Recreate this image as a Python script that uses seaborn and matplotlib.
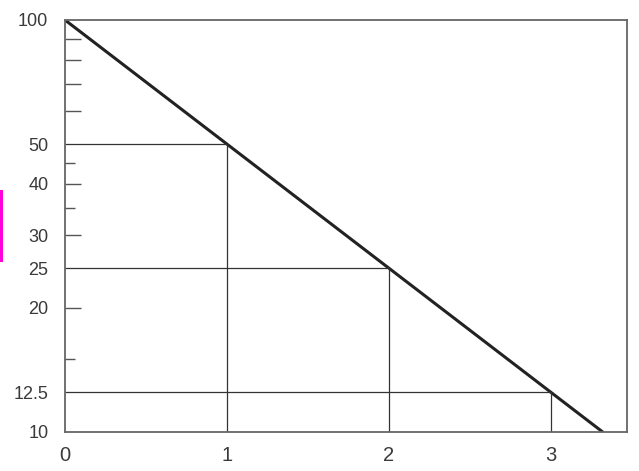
import numpy as np
import pandas as pd
import seaborn as sns
import matplotlib
matplotlib.use("Agg")
import matplotlib.pyplot as plt
from matplotlib.patches import Rectangle

# ---- data ----
line_x = [0.0, 3.32]
line_y = [100.0, 10.0]
half_x = [1, 2, 3]
half_y = [50, 25, 12.5]
ytick_vals = [10, 12.5, 20, 25, 30, 40, 50, 100]
ytick_labels = ["10", "12.5", "20", "25", "30", "40", "50", "100"]
long_ticks = [90, 80, 70, 60, 40, 30, 20]
short_ticks = [45, 35, 15]
xtick_vals = [0, 1, 2, 3]
xtick_labels = ["0", "1", "2", "3"]

sns.set_theme(style="white")
plt.rcParams['font.family'] = ['Liberation Sans', 'DejaVu Sans']

fig = plt.figure(figsize=(6.39, 4.71), dpi=100)
ax = fig.add_axes([65/639, 1-432/471, (627-65)/639, (432-20)/471])

df = pd.DataFrame({"x": line_x, "y": line_y})
sns.lineplot(data=df, x="x", y="y", ax=ax, color="#222222", linewidth=2.2)

ax.set_yscale("log")
ax.set_xlim(0, 3.47)
ax.set_ylim(10, 100)

# guide lines
ax.hlines(half_y, 0, half_x, color="#333333", linewidth=0.9)
ax.vlines(half_x, 10, half_y, color="#333333", linewidth=0.9)

ax.yaxis.remove_overlapping_locs = False
ax.set_yticks(ytick_vals)
ax.set_yticklabels(ytick_labels)
ax.set_yticks(long_ticks, minor=True)
ax.set_yticklabels([], minor=True)
ax.tick_params(axis="y", which="major", length=0, pad=12, labelsize=13, labelcolor="#3a3a3a")
ax.tick_params(axis="y", which="minor", direction="in", length=11.5, width=1.0, color="#555555", left=True)
ax.set_xticks(xtick_vals)
ax.set_xticklabels(xtick_labels)
ax.tick_params(axis="x", which="both", length=0, pad=10, labelsize=14.5, labelcolor="#3a3a3a")
ax.set_xlabel("")
ax.set_ylabel("")

ax2 = ax.twinx()
ax2.set_yscale("log")
ax2.set_ylim(10, 100)
ax2.set_yticks(short_ticks)
ax2.set_yticks([], minor=True)
ax2.tick_params(axis="y", which="major", direction="in", length=7, width=1.0, color="#555555",
                left=True, right=False, labelleft=False, labelright=False)
for sp in ax2.spines.values():
    sp.set_visible(False)

for sp in ax.spines.values():
    sp.set_color("#666666")
    sp.set_linewidth(1.3)

fig.patches.append(Rectangle((0, 1-262/471), 2.5/639, 72/471, transform=fig.transFigure,
                             facecolor="#ff00dd", edgecolor="none"))

fig.savefig("out.png", dpi=100)
